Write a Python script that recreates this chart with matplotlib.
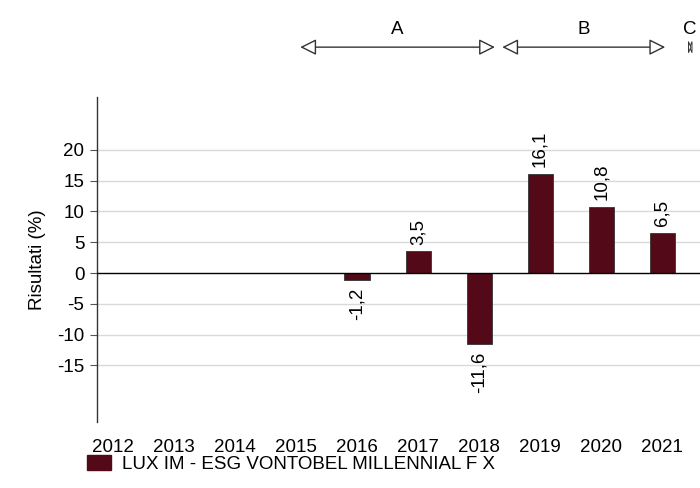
import matplotlib
matplotlib.use("Agg")
import matplotlib.pyplot as plt
import numpy as np

years = ["2012", "2013", "2014", "2015", "2016", "2017", "2018", "2019", "2020", "2021"]
values = [np.nan, np.nan, np.nan, np.nan, -1.2, 3.5, -11.6, 16.1, 10.8, 6.5]
series_name = "LUX IM - ESG VONTOBEL MILLENNIAL F X"
y_ticks = [-15, -10, -5, 0, 5, 10, 15, 20]

# period brackets drawn above the bars (start index, end index, label)
periods = [(3.07, 6.26, "A"), (6.38, 9.05, "B"), (9.44, 9.48, "C")]

BAR_COLOR = "#540918"
FS = 13.5

plt.rcParams["font.family"] = ["Liberation Sans", "DejaVu Sans"]
plt.rcParams["font.size"] = FS

fig = plt.figure(figsize=(7, 4.88), dpi=100)
ax = fig.add_axes([97 / 700, 66 / 488, 603 / 700, 325 / 488])

x = np.arange(len(years))
vals = np.array(values, dtype=float)
ax.bar(x, vals, width=0.41, color=BAR_COLOR, edgecolor="#333333", linewidth=0.6, zorder=3)

for xi, v in zip(x, vals):
    if np.isnan(v):
        continue
    label = f"{v:.1f}".replace(".", ",")
    if v >= 0:
        ax.annotate(label, (xi, v), xytext=(0, 5), textcoords="offset points",
                    rotation=90, ha="center", va="bottom", fontsize=FS)
    else:
        ax.annotate(label, (xi, v), xytext=(0, -5), textcoords="offset points",
                    rotation=90, ha="center", va="top", fontsize=FS)

ax.set_xlim(-0.26, 9.62)
ax.set_ylim(-24.2, 28.6)
ax.set_yticks(y_ticks)
ax.set_yticklabels([str(t) for t in y_ticks])
ax.set_xticks(x)
ax.set_xticklabels(years)
ax.tick_params(axis="x", length=0, pad=12)
ax.tick_params(axis="y", length=5, width=0.8, color="#555555", pad=4)

for t in y_ticks:
    if t == 0:
        ax.axhline(0, color="black", linewidth=1, zorder=4)
    else:
        ax.axhline(t, color="#d9d9d9", linewidth=1, zorder=1)

for side in ["top", "right", "bottom"]:
    ax.spines[side].set_visible(False)
ax.spines["left"].set_color("#333333")
ax.spines["left"].set_linewidth(1)

ax.set_ylabel("Risultati (%)", fontsize=FS, labelpad=8)

for start, end, name in periods:
    if end - start > 0.5:
        style = "<|-|>,head_length=0.7,head_width=0.35"
        scale, lw = 14, 1
    else:
        # very short period: heads collapse into a small hourglass
        style = "<|-|>,head_length=0.25,head_width=0.55"
        scale, lw = 7, 0.7
    ax.annotate("", xy=(end, 36.7), xytext=(start, 36.7),
                arrowprops=dict(arrowstyle=style, ec="#333333", fc="white", lw=lw,
                                mutation_scale=scale, shrinkA=0, shrinkB=0),
                annotation_clip=False)
    ax.text((start + end) / 2, 39.6, name, ha="center", va="center",
            fontsize=FS, clip_on=False)

handle = plt.Rectangle((0, 0), 1, 1, color=BAR_COLOR)
fig.legend([handle], [series_name], loc="center left",
           bbox_to_anchor=(70 / 700, 1 - 464 / 488), frameon=False,
           handlelength=1.3, handleheight=0.8, handletextpad=0.6, fontsize=FS)

fig.savefig("out.png", dpi=100)
